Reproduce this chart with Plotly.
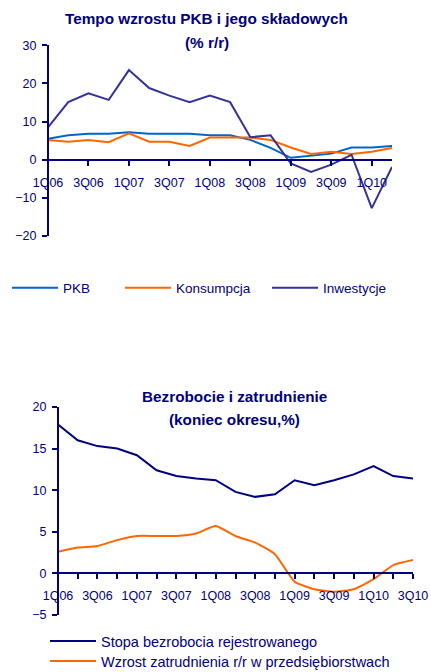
import plotly.graph_objects as go

# ---------------- data ----------------
quarters_top = ["1Q06", "2Q06", "3Q06", "4Q06", "1Q07", "2Q07", "3Q07", "4Q07",
                "1Q08", "2Q08", "3Q08", "4Q08", "1Q09", "2Q09", "3Q09", "4Q09",
                "1Q10", "2Q10"]
pkb = [5.5, 6.4, 6.8, 6.8, 7.2, 6.8, 6.8, 6.8, 6.4, 6.4, 5.2, 3.1, 0.5, 1.1, 1.6, 3.2, 3.2, 3.6]
konsumpcja = [5.2, 4.7, 5.2, 4.6, 6.9, 4.7, 4.7, 3.6, 5.8, 5.8, 5.8, 5.2, 3.2, 1.5, 2.1, 1.5, 2.1, 3.1]
inwestycje = [8.5, 15.1, 17.4, 15.7, 23.5, 18.8, 16.8, 15.1, 16.8, 15.1, 5.9, 6.4, -1.0, -3.2, -1.3, 1.3, -12.7, -1.9]

quarters_bottom = quarters_top + ["3Q10"]
stopa_bezrobocia = [17.9, 16.0, 15.3, 15.0, 14.2, 12.4, 11.7, 11.4, 11.2, 9.8, 9.2, 9.5,
                    11.2, 10.6, 11.2, 11.9, 12.9, 11.7, 11.4]
wzrost_zatrudnienia = [2.6, 3.1, 3.3, 4.0, 4.5, 4.5, 4.5, 4.8, 5.7, 4.5, 3.7, 2.3,
                       -1.0, -1.9, -2.2, -1.9, -0.7, 1.0, 1.6]

top_yticks = [-20, -10, 0, 10, 20, 30]
bottom_yticks = [-5, 0, 5, 10, 15, 20]

# ---------------- layout helpers ----------------
W, H = 431, 672
NAVY = "#000080"
FONT = "Arial, Liberation Sans, sans-serif"


def px_x(p):
    return p / W


def px_y(p):
    return 1 - p / H


top_ydom = [px_y(236), px_y(45.3)]
top_xdom = [px_x(48), px_x(392)]
top_yrange = [-20, 30]
bot_ydom = [px_y(615), px_y(407)]
bot_xdom = [px_x(58), px_x(413)]
bot_yrange = [-5, 20]


def zero_pos(dom, rng):
    return dom[0] + (0 - rng[0]) / (rng[1] - rng[0]) * (dom[1] - dom[0])


fig = go.Figure()

fig.add_trace(go.Scatter(x=quarters_top, y=pkb, name="PKB", mode="lines",
                         line=dict(color="#0066CC", width=2), xaxis="x", yaxis="y",
                         legend="legend"))
fig.add_trace(go.Scatter(x=quarters_top, y=konsumpcja, name="Konsumpcja", mode="lines",
                         line=dict(color="#FF6600", width=2), xaxis="x", yaxis="y",
                         legend="legend2"))
fig.add_trace(go.Scatter(x=quarters_top, y=inwestycje, name="Inwestycje", mode="lines",
                         line=dict(color="#333399", width=2), xaxis="x", yaxis="y",
                         legend="legend3"))
fig.add_trace(go.Scatter(x=quarters_bottom, y=stopa_bezrobocia, name="Stopa bezrobocia rejestrowanego",
                         mode="lines", line=dict(color=NAVY, width=2), xaxis="x2", yaxis="y2",
                         legend="legend4"))
fig.add_trace(go.Scatter(x=quarters_bottom, y=wzrost_zatrudnienia,
                         name="Wzrost zatrudnienia r/r w przedsiębiorstwach",
                         mode="lines", line=dict(color="#FF6600", width=2, shape="spline", smoothing=0.5),
                         xaxis="x2", yaxis="y2", legend="legend5"))

tick_font = dict(family=FONT, size=12.5, color=NAVY)
axis_common = dict(showgrid=False, zeroline=False, showline=True, linecolor=NAVY, linewidth=2,
                   ticks="outside", ticklen=5, tickwidth=2, tickcolor=NAVY, tickfont=tick_font,
                   automargin=False)

top_xtickvals = [q for i, q in enumerate(quarters_top) if i % 2 == 0]
bot_xticktext = [q if i % 2 == 0 else "" for i, q in enumerate(quarters_bottom)]

fig.update_layout(
    width=W, height=H,
    margin=dict(l=0, r=0, t=0, b=0, autoexpand=False),
    paper_bgcolor="white", plot_bgcolor="white",
    font=dict(family=FONT, color=NAVY),
    xaxis=dict(domain=top_xdom, anchor="free", position=zero_pos(top_ydom, top_yrange),
               type="category", range=[0, len(quarters_top) - 1],
               tickmode="array", tickvals=top_xtickvals, ticktext=top_xtickvals,
               ticklabelstandoff=6, **axis_common),
    yaxis=dict(domain=top_ydom, anchor="free", position=top_xdom[0], range=top_yrange,
               tickmode="array", tickvals=top_yticks, ticklabelstandoff=3, **axis_common),
    xaxis2=dict(domain=bot_xdom, anchor="free", position=zero_pos(bot_ydom, bot_yrange),
                type="category", range=[0, len(quarters_bottom) - 1],
                tickmode="array", tickvals=quarters_bottom, ticktext=bot_xticktext,
                ticklabelstandoff=6, **axis_common),
    yaxis2=dict(domain=bot_ydom, anchor="free", position=bot_xdom[0], range=bot_yrange,
                tickmode="array", tickvals=bottom_yticks, ticklabelstandoff=3, **axis_common),
    showlegend=True,
)

leg_font_top = dict(family=FONT, size=13.5, color=NAVY)
leg_font_bot = dict(family=FONT, size=14.5, color=NAVY)
leg_common = dict(bgcolor="rgba(0,0,0,0)", borderwidth=0, xanchor="left", yanchor="middle",
                  orientation="h", itemwidth=46, xref="container", yref="container")
fig.update_layout(
    legend=dict(x=px_x(7), y=px_y(288), font=leg_font_top, **leg_common),
    legend2=dict(x=px_x(120), y=px_y(288), font=leg_font_top, **leg_common),
    legend3=dict(x=px_x(267), y=px_y(288), font=leg_font_top, **leg_common),
    legend4=dict(x=px_x(45), y=px_y(641), font=leg_font_bot, **leg_common),
    legend5=dict(x=px_x(45), y=px_y(661), font=leg_font_bot, **leg_common),
)

title_font = dict(family=FONT, size=15.3, color=NAVY)
annots = [
    ("<b>Tempo wzrostu PKB i jego składowych</b>", 206.5, 18),
    ("<b>(% r/r)</b>", 206.5, 42),
    ("<b>Bezrobocie i zatrudnienie</b>", 234, 396),
    ("<b>(koniec okresu,%)</b>", 234, 419),
]
for text, ax, ay in annots:
    fig.add_annotation(text=text, x=px_x(ax), y=px_y(ay), xref="paper", yref="paper",
                       xanchor="center", yanchor="middle", showarrow=False, font=title_font)

fig.write_html("out.html", config={"displayModeBar": False},
               post_script="document.body.style.margin='0';document.body.style.overflow='hidden';")
